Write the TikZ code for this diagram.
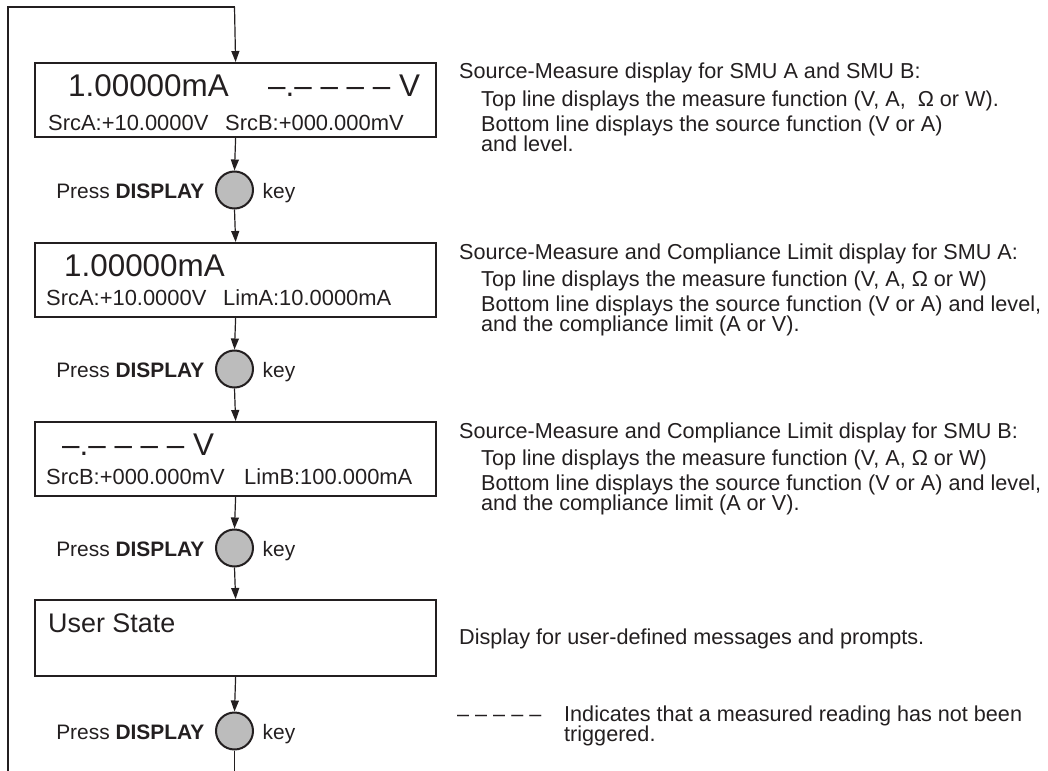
\documentclass[tikz,border=0pt]{standalone}
\usepackage{fontspec}
\setmainfont{Liberation Sans}
\usetikzlibrary{arrows.meta}
\definecolor{ink}{RGB}{35,31,32}
\definecolor{keygray}{RGB}{188,188,188}
\newcommand\fbig{\fontsize{31.5}{31.5}\selectfont}
\newcommand\fuser{\fontsize{27}{27}\selectfont}
\newcommand\fsmall{\fontsize{22}{22}\selectfont}
\newcommand\fpress{\fontsize{21}{21}\selectfont}
\newcommand\fnote{\fontsize{21.7}{21.7}\selectfont}
\begin{document}
\begin{tikzpicture}[x=1bp,y=-1bp,
  lcd/.style={draw=ink, line width=2.2bp, minimum width=401bp, minimum height=74bp, inner sep=0pt, anchor=north west},
  keybtn/.style={circle, draw=ink, fill=keygray, line width=2bp, minimum size=37bp, inner sep=0pt},
  conn/.style={draw=ink, line width=1.2bp, -{Triangle[length=11bp,width=8bp]}},
  plain/.style={draw=ink, line width=1.2bp},
  txt/.style={anchor=base west, inner sep=0pt, text=ink},
  txtr/.style={anchor=base east, inner sep=0pt, text=ink}]
\useasboundingbox (0,0) rectangle (1048,771);

% display boxes
\node[lcd] (b1) at (34,62) {};
\node[lcd] (b2) at (34,242) {};
\node[lcd] (b3) at (34,421) {};
\node[lcd, minimum height=76bp] (b4) at (34,599) {};

% keys
\node[keybtn] (k1) at (234.5,190) {};
\node[keybtn] (k2) at (234.5,369) {};
\node[keybtn] (k3) at (234.5,548) {};
\node[keybtn] (k4) at (234.5,731) {};

% box texts
\node[txt] (t1a) at (68,97) {\fbig 1.00000mA};
\node[txt] (t1b) at (268,97) {\fbig --.-- -- -- -- V};
\node[txt] (t1c) at (48,130) {\fsmall SrcA:+10.0000V};
\node[txt] (t1d) at (225,130) {\fsmall SrcB:+000.000mV};

\node[txt] (t2a) at (64,276) {\fbig 1.00000mA};
\node[txt] (t2c) at (46,305) {\fsmall SrcA:+10.0000V};
\node[txt] (t2d) at (223,305) {\fsmall LimA:10.0000mA};

\node[txt] (t3a) at (62,455) {\fbig --.-- -- -- -- V};
\node[txt] (t3c) at (46,484) {\fsmall SrcB:+000.000mV};
\node[txt] (t3d) at (244,484) {\fsmall LimB:100.000mA};

\node[txt] (t4a) at (48,632) {\fuser User State};

% press labels
\foreach \k in {1,2,3,4}{
  \node[txtr] (p\k) at ([xshift=-30bp,yshift=-8bp]k\k.center) {\fpress Press \textbf{DISPLAY}};
  \node[txt] (q\k) at ([xshift=28bp,yshift=-8bp]k\k.center) {\fpress key};
}

% connectors
\coordinate (lb) at (8,771);
\coordinate (lt) at (8,7);
\coordinate (tt) at (234.5,7);
\coordinate (be) at (234.5,771);
\draw[plain, line width=1.6bp] (lb) -- (lt) -- (tt);
\draw[conn] (tt) -- (b1.north);
\draw[conn] (b1.south) -- (k1.north);
\draw[conn] (k1.south) -- (b2.north);
\draw[conn] (b2.south) -- (k2.north);
\draw[conn] (k2.south) -- (b3.north);
\draw[conn] (b3.south) -- (k3.north);
\draw[conn] (k3.south) -- (b4.north);
\draw[conn] (b4.south) -- (k4.north);
\draw[plain] (k4.south) -- (be);

% notes
\node[txt] (n1a) at (459,79) {\fnote Source-Measure display for SMU A and SMU B:};
\node[txt] (n1b) at (481,106) {\fnote Top line displays the measure function (V, A, \ Ω or W).};
\node[txt] (n1c) at (481,131) {\fnote Bottom line displays the source function (V or A)};
\node[txt] (n1d) at (481,151) {\fnote and level.};

\node[txt] (n2a) at (459,259) {\fnote Source-Measure and Compliance Limit display for SMU A:};
\node[txt] (n2b) at (481,286) {\fnote Top line displays the measure function (V, A, Ω or W)};
\node[txt] (n2c) at (481,311) {\fnote Bottom line displays the source function (V or A) and level,};
\node[txt] (n2d) at (481,331) {\fnote and the compliance limit (A or V).};

\node[txt] (n3a) at (459,438) {\fnote Source-Measure and Compliance Limit display for SMU B:};
\node[txt] (n3b) at (481,465) {\fnote Top line displays the measure function (V, A, Ω or W)};
\node[txt] (n3c) at (481,490) {\fnote Bottom line displays the source function (V or A) and level,};
\node[txt] (n3d) at (481,510) {\fnote and the compliance limit (A or V).};

\node[txt] (n4a) at (459,644) {\fnote Display for user-defined messages and prompts.};

\node[txt] (n5a) at (457,721) {\fnote -- -- -- -- --};
\node[txt] (n5b) at (564,721) {\fnote Indicates that a measured reading has not been};
\node[txt] (n5c) at (564,741) {\fnote triggered.};
\end{tikzpicture}
\end{document}
